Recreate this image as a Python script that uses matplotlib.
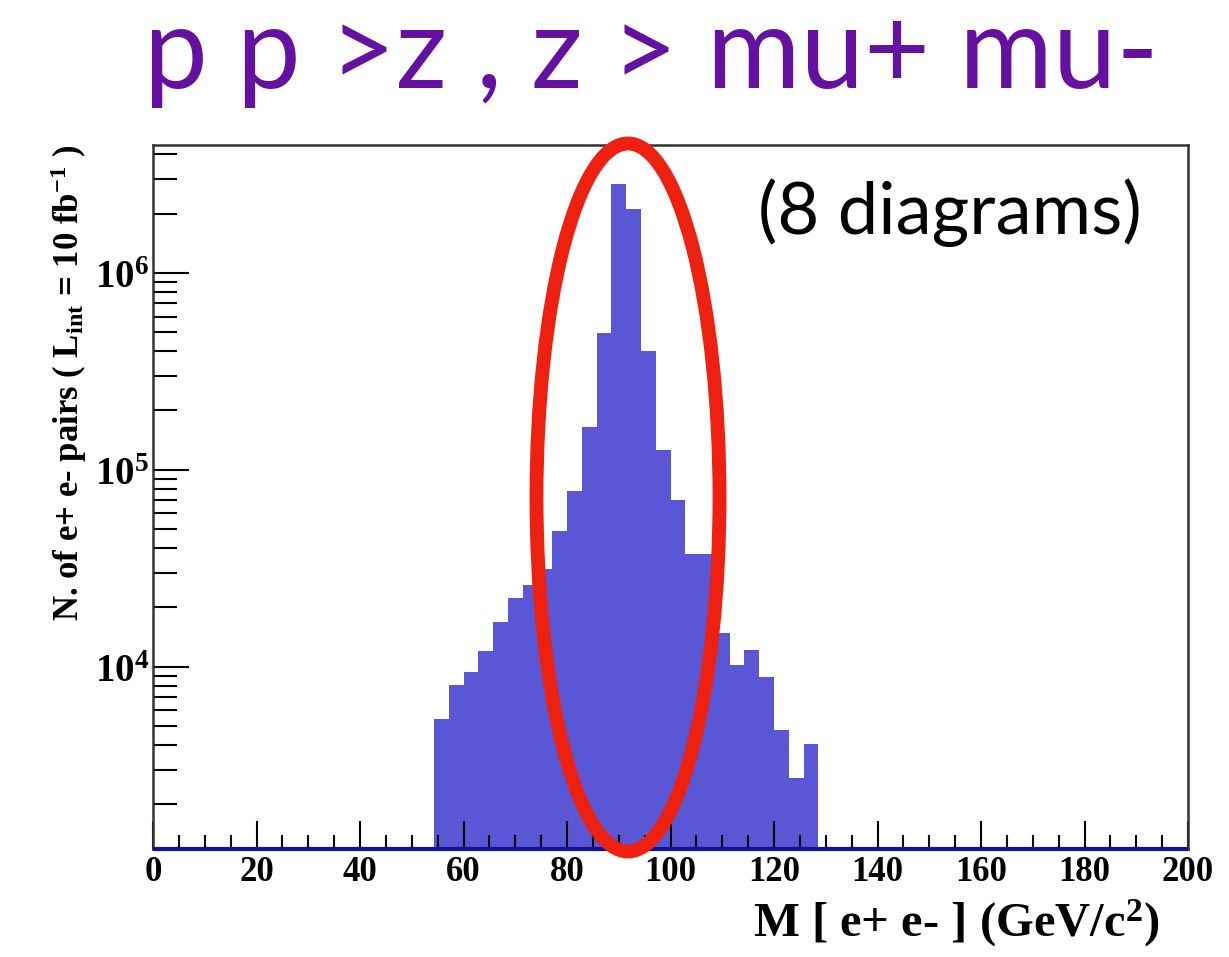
import numpy as np
import matplotlib
matplotlib.use('Agg')
import matplotlib.pyplot as plt
from matplotlib.patches import Ellipse
from matplotlib.ticker import FixedLocator, NullFormatter, LogLocator

# histogram: 70 bins from 0 to 200 GeV, only bins 19..44 are filled
n_bins = 70
first_bin = 19
counts = [5400, 8070, 9430, 12060, 16930, 22270, 26030, 31280, 48570, 78220,
          164900, 495500, 2845000, 2116000, 403000, 125400, 69830, 37410, 37410,
          14890, 10200, 12120, 8835, 4767, 2707, 4046]

title = 'p p >z , z > mu+ mu-'
note = '(8 diagrams)'
xlabel = 'M [ e+ e- ] (GeV/c$^{2}$)'
ylabel = 'N. of e+ e- pairs ( L$_{int}$ = 10 fb$^{-1}$ )'

ymin, ymax = 1188, 4.49e6

serif = 'Liberation Serif'
plt.rcParams['mathtext.fontset'] = 'custom'
plt.rcParams['mathtext.rm'] = serif + ':bold'
plt.rcParams['mathtext.it'] = serif + ':bold'
plt.rcParams['mathtext.bf'] = serif + ':bold'
plt.rcParams['mathtext.default'] = 'rm'

W, H = 1229, 957
fig = plt.figure(figsize=(W / 100, H / 100), dpi=100)
ax = fig.add_axes([153 / W, 1 - 848.7 / H, (1188 - 153) / W, (848.7 - 144.5) / H])

edges = np.linspace(0, 200, n_bins + 1)
full = np.zeros(n_bins)
full[first_bin:first_bin + len(counts)] = counts
full[full == 0] = ymin * 0.5
ax.stairs(full, edges, baseline=ymin * 0.5, fill=True, color='#5a57d6',
          linewidth=0)
ax.plot([0, 200], [ymin, ymin], color='#10109a', linewidth=3, zorder=3,
        clip_on=False, solid_capstyle='butt')

ax.set_yscale('log')
ax.set_xlim(0, 200)
ax.set_ylim(ymin, ymax)

ax.xaxis.set_major_locator(FixedLocator(np.arange(0, 201, 20)))
ax.xaxis.set_minor_locator(FixedLocator(np.arange(0, 201, 5)))
ax.yaxis.set_major_locator(LogLocator(base=10, numticks=10))
ax.yaxis.set_minor_locator(LogLocator(base=10, subs=np.arange(2, 10), numticks=20))
ax.yaxis.set_minor_formatter(NullFormatter())
ax.yaxis.set_major_formatter(plt.FuncFormatter(
    lambda v, p: r'$10^{%d}$' % int(round(np.log10(v)))))

ax.tick_params(axis='both', which='both', direction='in', top=False, right=False,
               width=1.5, color='black')
ax.tick_params(axis='x', which='major', length=20, pad=5)
ax.tick_params(axis='x', which='minor', length=10)
ax.tick_params(axis='y', which='major', length=26, pad=3)
ax.tick_params(axis='y', which='minor', length=17)
for lab in ax.get_xticklabels():
    lab.set_fontfamily(serif)
    lab.set_fontweight('bold')
    lab.set_fontsize(25)
for lab in ax.get_yticklabels():
    lab.set_fontsize(28)

for s in ax.spines.values():
    s.set_linewidth(1.8)
    s.set_color('#333333')

ax.set_xlabel(xlabel, fontfamily=serif, fontweight='bold', fontsize=35,
              loc='right', labelpad=6)
ax.xaxis.label.set_position((1 - 28 / 1035, 0))
ax.set_ylabel(ylabel, fontfamily=serif, fontweight='bold', fontsize=25,
              loc='top', labelpad=4)

fig.text(651 / W, 1 - 88 / H, title, fontfamily='Lato', fontsize=82,
         color='#6410a0', ha='center', va='baseline')
fig.text(950 / W, 1 - 234 / H, note, fontfamily='Lato', fontsize=52,
         color='black', ha='center', va='baseline')

ell = Ellipse((628, H - 497.5), 2 * 91.5, 2 * 354, fill=False,
              edgecolor='#ee2010', linewidth=10, transform=None, clip_on=False,
              zorder=5)
fig.add_artist(ell)

fig.savefig('out.png', dpi=100)
